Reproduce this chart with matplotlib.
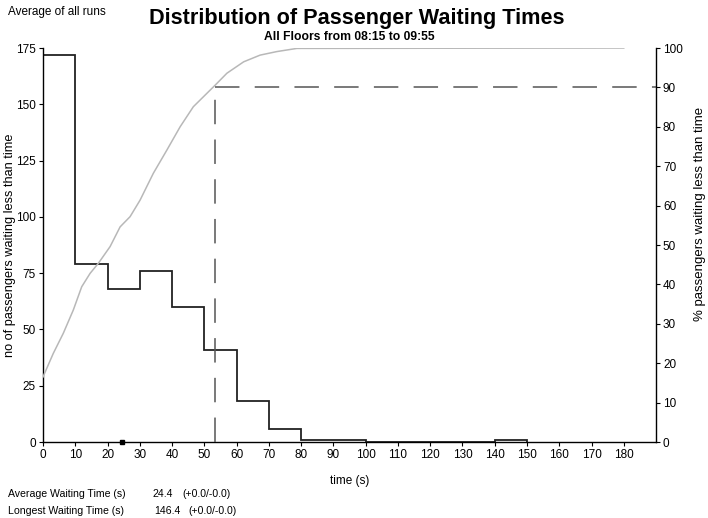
import matplotlib

matplotlib.use("Agg")
import matplotlib.pyplot as plt

# histogram of waiting times (10 s bins)
bin_edges = [0, 10, 20, 30, 40, 50, 60, 70, 80, 90, 100, 110, 120, 130, 140, 150]
bin_counts = [172, 79, 68, 76, 60, 41, 18, 6, 1, 1, 0, 0, 0, 0, 1]

# cumulative % of passengers waiting less than time
cum_time = [0, 3.2, 6.3, 9.4, 12, 14.6, 17.2, 20.8, 23.9, 27, 30.1, 34.2, 38.4,
            42.5, 46.6, 50.8, 53.4, 57, 62.2, 67.3, 72.5, 78.7, 180]
cum_pct = [16.5, 22.5, 27.6, 33.5, 39.4, 42.8, 45.4, 49.6, 54.6, 57.2, 61.4, 68.2, 74.1,
           80, 85.1, 88.5, 90.6, 93.6, 96.5, 98.2, 99.1, 99.9, 100]

avg_wait = 24.4
longest_wait = 146.4
p90_time = 53.4
p90_pct = 90

x_ticks = list(range(0, 190, 10))
y_ticks = list(range(0, 200, 25))
pct_ticks = list(range(0, 110, 10))


def main():
    plt.rcParams.update({
        "font.family": ["Liberation Sans", "DejaVu Sans"],
        "font.size": 8.5,
        "axes.linewidth": 1.0,
    })

    fig = plt.figure(figsize=(7.08, 5.18), dpi=100)
    ax = fig.add_axes([0.0607, 0.1467, 0.8659, 0.7606])
    ax2 = ax.twinx()

    # histogram outline
    ax.stairs(bin_counts, bin_edges, color="#222222", lw=1.3, baseline=0)
    ax.plot([avg_wait], [0], "s", ms=3.5, color="black", clip_on=False, zorder=5)

    # cumulative curve and 90th percentile marker
    ax2.plot(cum_time, cum_pct, color="#b8b8b8", lw=1.1)
    ax2.plot([p90_time, p90_time], [0, p90_pct], color="#555555", lw=1.1,
             dashes=(16, 10))
    ax2.plot([p90_time, 190], [p90_pct, p90_pct], color="#555555", lw=1.1,
             dashes=(16, 10))

    ax.set_xlim(0, 190)
    ax.set_ylim(0, 175)
    ax2.set_ylim(0, 100)
    ax.set_xticks(x_ticks)
    ax.set_yticks(y_ticks)
    ax2.set_yticks(pct_ticks)

    for a in (ax, ax2):
        a.spines["top"].set_visible(False)
        a.tick_params(length=3, width=0.8, pad=2, labelsize=8.5)
    ax.spines["right"].set_visible(False)
    ax2.spines["left"].set_visible(False)
    ax2.spines["bottom"].set_visible(False)

    ax.set_xlabel("time (s)", fontsize=8.5)
    ax.xaxis.set_label_coords(0.5, -0.085)
    ax.set_ylabel("no of passengers waiting less than time", fontsize=9.2)
    ax.yaxis.set_label_coords(-0.044, 0.5)
    ax2.set_ylabel("% passengers waiting less than time", fontsize=9.5)
    ax2.yaxis.set_label_coords(1.062, 0.58)

    fig.text(0.504, 0.965, "Distribution of Passenger Waiting Times",
             ha="center", va="center", fontsize=15.6, fontweight="bold")
    fig.text(0.494, 0.928, "All Floors from 08:15 to 09:55",
             ha="center", va="center", fontsize=8.7, fontweight="bold")
    fig.text(0.011, 0.977, "Average of all runs", ha="left", va="center", fontsize=8.5)

    rows = [("Average Waiting Time (s)", avg_wait, 0.0463, 0.215, 0.258),
            ("Longest Waiting Time (s)", longest_wait, 0.0135, 0.218, 0.266)]
    for label, val, y, xv, xb in rows:
        fig.text(0.011, y, label, ha="left", va="center", fontsize=7.6)
        fig.text(xv, y, f"{val:.1f}", ha="left", va="center", fontsize=7.6)
        fig.text(xb, y, "(+0.0/-0.0)", ha="left", va="center", fontsize=7.6)

    fig.savefig("out.png", dpi=100)


if __name__ == "__main__":
    main()
